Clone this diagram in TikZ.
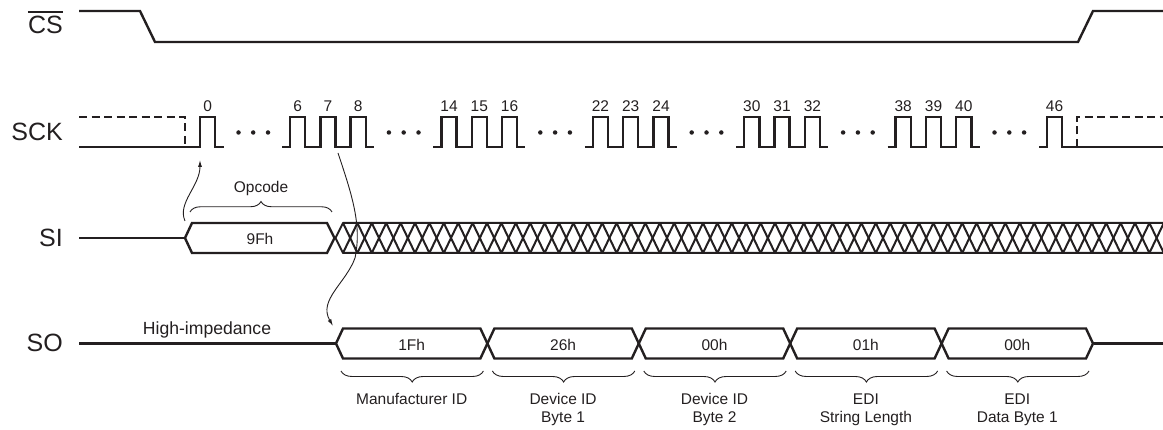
\documentclass[tikz,border=0pt]{standalone}
\usepackage{fontspec}
\setmainfont{Liberation Sans}
\usetikzlibrary{decorations.pathreplacing,arrows.meta}
\definecolor{ink}{RGB}{35,31,32}
\begin{document}
\begin{tikzpicture}[x=1pt,y=-1pt,
  sig/.style={draw=ink, line width=2.4pt, line join=miter},
  dashsig/.style={draw=ink, line width=2.4pt, dash pattern=on 8pt off 4.5pt},
  hatchl/.style={draw=ink, line width=2pt, line join=round},
  thinl/.style={draw=ink, line width=0.9pt},
  arr/.style={thinl, -{Latex[length=7pt,width=4pt]}},
  bracetop/.style={thinl, decorate, decoration={brace, amplitude=10.5pt}},
  bracebot/.style={thinl, decorate, decoration={brace, mirror, amplitude=11pt}},
  siglabel/.style={anchor=base east, inner sep=0pt, text=ink, font=\fontsize{25}{30}\selectfont},
  small/.style={inner sep=0pt, text=ink, font=\fontsize{15.5}{18}\selectfont},
  numlabel/.style={small, anchor=base},
  desc/.style={small, anchor=north, align=center},
  dotn/.style={circle, fill=ink, inner sep=0pt, minimum size=4.5pt}
]
\useasboundingbox (0,0) rectangle (1163,430);

% ---------- labels ----------
\node[siglabel] (cslbl) at (63,34) {CS};
\draw[ink, line width=1.3pt] (cslbl.west |- 0,12) -- (cslbl.east |- 0,12);
\node[siglabel] (scklbl) at (63,141) {SCK};
\node[siglabel] (silbl) at (63,247) {SI};
\node[siglabel] (solbl) at (63,352) {SO};

% ---------- CS ----------
\draw[sig] (79,11) -- (140,11) -- (155,42) -- (1078,42) -- (1093,11) -- (1163,11);

% ---------- SCK ----------
\def\hp{15.15}
\draw[dashsig] (79,117) -- (185,117) -- (185,147);
\draw[sig] (79,147) -- (200,147) -- (200,117) -- (215.15,117) -- (215.15,147) -- (224,147);
\node[numlabel] (n0) at (207.6,111.5) {0};
\foreach \g/\a/\b/\c in {0/6/7/8, 1/14/15/16, 2/22/23/24, 3/30/31/32, 4/38/39/40} {
  \pgfmathsetmacro{\G}{290+151.4*\g}
  \draw[sig] ({\G-8},147) -- (\G,147) -- (\G,117) -- ({\G+\hp},117) -- ({\G+\hp},147)
    -- ({\G+2*\hp},147) -- ({\G+2*\hp},117) -- ({\G+3*\hp},117) -- ({\G+3*\hp},147)
    -- ({\G+4*\hp},147) -- ({\G+4*\hp},117) -- ({\G+5*\hp},117) -- ({\G+5*\hp},147)
    -- ({\G+84},147);
  \node[numlabel] (n\a) at ({\G+7.6},111.5) {\a};
  \node[numlabel] (n\b) at ({\G+7.6+2*\hp},111.5) {\b};
  \node[numlabel] (n\c) at ({\G+7.6+4*\hp},111.5) {\c};
  \pgfmathsetmacro{\M}{\G+113.7}
  \node[dotn] (da\g) at ({\M-14.8},132.5) {};
  \node[dotn] (db\g) at (\M,132.5) {};
  \node[dotn] (dc\g) at ({\M+14.8},132.5) {};
}
\node[dotn] (d0a) at (238.5,132.5) {};
\node[dotn] (d0b) at (253.2,132.5) {};
\node[dotn] (d0c) at (268,132.5) {};
% pulse 46
\draw[sig] (1039,147) -- (1047,147) -- (1047,117) -- (1062.15,117) -- (1062.15,147) -- (1163,147);
\node[numlabel] (n46) at (1054.6,111.5) {46};
\draw[dashsig] (1077,147) -- (1077,117) -- (1163,117);

% ---------- SI ----------
\draw[sig] (79,238) -- (185,238);
\draw[sig] (185,238) -- (192,223) -- (327,223) -- (334.5,238) -- (327,253) -- (192,253) -- cycle;
\node[small] (op) at (260,238.5) {9Fh};
\begin{scope}
  \clip (330,210) rectangle (1163,266);
  \draw[hatchl] (1170,223) -- (343,223) -- (335.5,238) -- (343,253) -- (1170,253);
  \draw[hatchl] (343,223) \foreach \k in {0,2,...,56} { -- ({343+14.4*(\k+1)},253) -- ({343+14.4*(\k+2)},223) };
  \draw[hatchl] (343,253) \foreach \k in {0,2,...,56} { -- ({343+14.4*(\k+1)},223) -- ({343+14.4*(\k+2)},253) };
\end{scope}
\draw[bracetop] (190,212) -- (332,212);
\node[small, anchor=base] (opcode) at (261,193) {Opcode};

% ---------- SO ----------
\draw[sig] (79,343.5) -- (336,343.5);
\node[small, anchor=base, font=\fontsize{17.6}{20}\selectfont] (hiz) at (207,335) {High-impedance};
\foreach \k/\txt/\dsc in {0/1Fh/Manufacturer ID, 1/26h/Device ID\\Byte 1, 2/00h/Device ID\\Byte 2, 3/01h/EDI\\String Length, 4/00h/EDI\\Data Byte 1} {
  \pgfmathsetmacro{\L}{336+151.4*\k}
  \pgfmathsetmacro{\R}{336+151.4*(\k+1)}
  \draw[sig] (\L,343.5) -- ({\L+7},328.5) -- ({\R-7},328.5) -- (\R,343.5) -- ({\R-7},358.5) -- ({\L+7},358.5) -- cycle;
  \node[small] (box\k) at ({(\L+\R)/2},345) {\txt};
  \draw[bracebot] ({\L+5},371) -- ({\R-4},371);
  \node[desc] (desc\k) at ({(\L+\R)/2},393.5) {\dsc};
}
\draw[sig] (1093.6,343.5) -- (1163,343.5);

% ---------- causal arrows ----------
\coordinate (siStart) at (185,221);
\coordinate (sckZero) at (200,160);
\draw[arr] (siStart) .. controls (177,203) and (200,186) .. (sckZero);
\coordinate (sckSeven) at (338,153);
\coordinate (soStart) at (333,326);
\draw[arr] (sckSeven) .. controls (352,195) and (362,225) .. (355,258)
  .. controls (346,283) and (318,300) .. (soStart);
\end{tikzpicture}
\end{document}
